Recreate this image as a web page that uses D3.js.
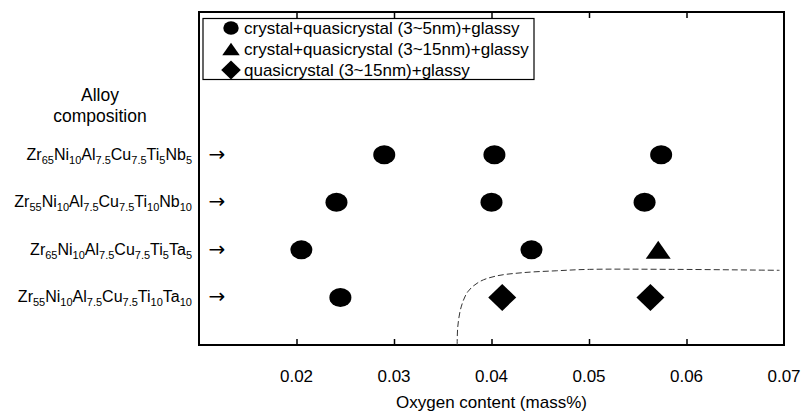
<!DOCTYPE html>
<html>
<head>
<meta charset="utf-8">
<script src="https://d3js.org/d3.v7.min.js"></script>
<style>
  body { margin: 0; background: #fff; }
  text { font-family: "Liberation Sans", Arial, sans-serif; fill: #000; }
</style>
</head>
<body>
<script>
// alloys, top to bottom; each part is [element, subscript]
var alloys = [
  [["Zr","65"],["Ni","10"],["Al","7.5"],["Cu","7.5"],["Ti","5"],["Nb","5"]],
  [["Zr","55"],["Ni","10"],["Al","7.5"],["Cu","7.5"],["Ti","10"],["Nb","10"]],
  [["Zr","65"],["Ni","10"],["Al","7.5"],["Cu","7.5"],["Ti","5"],["Ta","5"]],
  [["Zr","55"],["Ni","10"],["Al","7.5"],["Cu","7.5"],["Ti","10"],["Ta","10"]]
];

// oxygen content of each sample, per alloy row
var oxygen = [
  [0.0290, 0.0403, 0.0574],
  [0.0241, 0.0400, 0.0557],
  [0.0205, 0.0441, 0.0571],
  [0.0245, 0.0411, 0.0563]
];
// structure type of each sample: 0 circle, 1 triangle, 2 diamond
var phase = [
  [0, 0, 0],
  [0, 0, 0],
  [0, 0, 1],
  [0, 2, 2]
];

var legendLabels = [
  "crystal+quasicrystal (3~5nm)+glassy",
  "crystal+quasicrystal (3~15nm)+glassy",
  "quasicrystal (3~15nm)+glassy"
];

var xTicks = [0.02, 0.03, 0.04, 0.05, 0.06, 0.07];

// dashed boundary: oxygen content vs row position
var boundaryX = [0.03648, 0.03654, 0.03689, 0.03757, 0.03877, 0.04048, 0.04318, 0.04664, 0.05005, 0.05856, 0.06954];
var boundaryRow = [4.0, 3.62, 3.20, 2.88, 2.67, 2.55, 2.48, 2.44, 2.41, 2.41, 2.43];

var w = 806, h = 414;
var pLeft = 199, pRight = 784, pTop = 12, pBottom = 345;

var svg = d3.select("body").append("svg")
  .attr("width", w)
  .attr("height", h);

var x = d3.scaleLinear().domain([0.01, 0.07]).range([pLeft, pRight]);
var y = d3.scaleLinear().domain([-3, 4]).range([pTop, pBottom]);

// axes: ticks pointing inward on bottom and top
var bottomAxis = d3.axisBottom(x).tickValues(xTicks.slice(0, 5))
  .tickSizeInner(-6).tickSizeOuter(0).tickFormat("");
svg.append("g").attr("transform", "translate(0," + pBottom + ")").call(bottomAxis);
var topAxis = d3.axisTop(x).tickValues(xTicks.slice(0, 5))
  .tickSizeInner(-6).tickSizeOuter(0).tickFormat("");
svg.append("g").attr("transform", "translate(0," + pTop + ")").call(topAxis);
svg.selectAll(".domain").remove();
svg.selectAll(".tick line").attr("stroke", "#000").attr("stroke-width", 1.5);

svg.selectAll(".xlabel")
  .data(xTicks)
  .enter()
  .append("text")
  .attr("x", function(d){ return x(d); })
  .attr("y", 382)
  .attr("text-anchor", "middle")
  .attr("font-size", "17px")
  .text(function(d){ return d.toFixed(2); });

svg.append("text")
  .attr("x", x(0.04))
  .attr("y", 408)
  .attr("text-anchor", "middle")
  .attr("font-size", "17px")
  .text("Oxygen content (mass%)");

// frame
svg.append("rect")
  .attr("x", pLeft).attr("y", pTop)
  .attr("width", pRight - pLeft).attr("height", pBottom - pTop)
  .attr("fill", "none")
  .attr("stroke", "#000")
  .attr("stroke-width", 2);

// boundary curve
var line = d3.line()
  .x(function(d){ return x(d[0]); })
  .y(function(d){ return y(d[1]); })
  .curve(d3.curveCatmullRom);
svg.append("path")
  .datum(d3.zip(boundaryX, boundaryRow))
  .attr("d", line)
  .attr("fill", "none")
  .attr("stroke", "#333")
  .attr("stroke-width", 1)
  .attr("stroke-dasharray", "6,3");

// y labels
svg.append("text").attr("x", 100).attr("y", 101)
  .attr("text-anchor", "middle").attr("font-size", "17.5px").text("Alloy");
svg.append("text").attr("x", 100).attr("y", 122)
  .attr("text-anchor", "middle").attr("font-size", "17.5px").text("composition");

alloys.forEach(function(parts, i) {
  var t = svg.append("text")
    .attr("x", 192)
    .attr("y", y(i) + 5)
    .attr("text-anchor", "end")
    .attr("font-size", "16px");
  parts.forEach(function(p, k) {
    t.append("tspan").attr("dy", k === 0 ? 0 : -4).text(p[0]);
    t.append("tspan").attr("font-size", "11px").attr("dy", 4).text(p[1]);
  });
  svg.append("text")
    .attr("x", 217)
    .attr("y", y(i) + 6)
    .attr("text-anchor", "middle")
    .style("font-family", "'DejaVu Sans'")
    .style("font-size", "20px")
    .text("\u2192");
});

function marker(g, type, cx, cy, s) {
  if (type === 0) {
    g.append("ellipse").attr("cx", cx).attr("cy", cy)
      .attr("rx", 11 * s).attr("ry", 9.5 * s).attr("fill", "#000");
  } else if (type === 1) {
    g.append("path")
      .attr("d", "M" + cx + "," + (cy - 9 * s) + "L" + (cx + 12.5 * s) + "," + (cy + 9 * s) +
        "L" + (cx - 12.5 * s) + "," + (cy + 9 * s) + "Z")
      .attr("fill", "#000");
  } else {
    g.append("path")
      .attr("d", "M" + cx + "," + (cy - 13.5 * s) + "L" + (cx + 14 * s) + "," + cy +
        "L" + cx + "," + (cy + 13.5 * s) + "L" + (cx - 14 * s) + "," + cy + "Z")
      .attr("fill", "#000");
  }
}

var pts = svg.append("g");
oxygen.forEach(function(row, i) {
  row.forEach(function(v, j) {
    marker(pts, phase[i][j], x(v), y(i), 1);
  });
});

// legend
var lg = svg.append("g");
lg.append("rect")
  .attr("x", 203).attr("y", 18.5)
  .attr("width", 331).attr("height", 61)
  .attr("fill", "#fff")
  .attr("stroke", "#000")
  .attr("stroke-width", 1.2);
legendLabels.forEach(function(d, i) {
  var cy = 28 + i * 21;
  marker(lg, i, 231, cy, 0.7);
  lg.append("text")
    .attr("x", 244)
    .attr("y", cy + 6)
    .attr("font-size", "17px")
    .text(d);
});
</script>
</body>
</html>
